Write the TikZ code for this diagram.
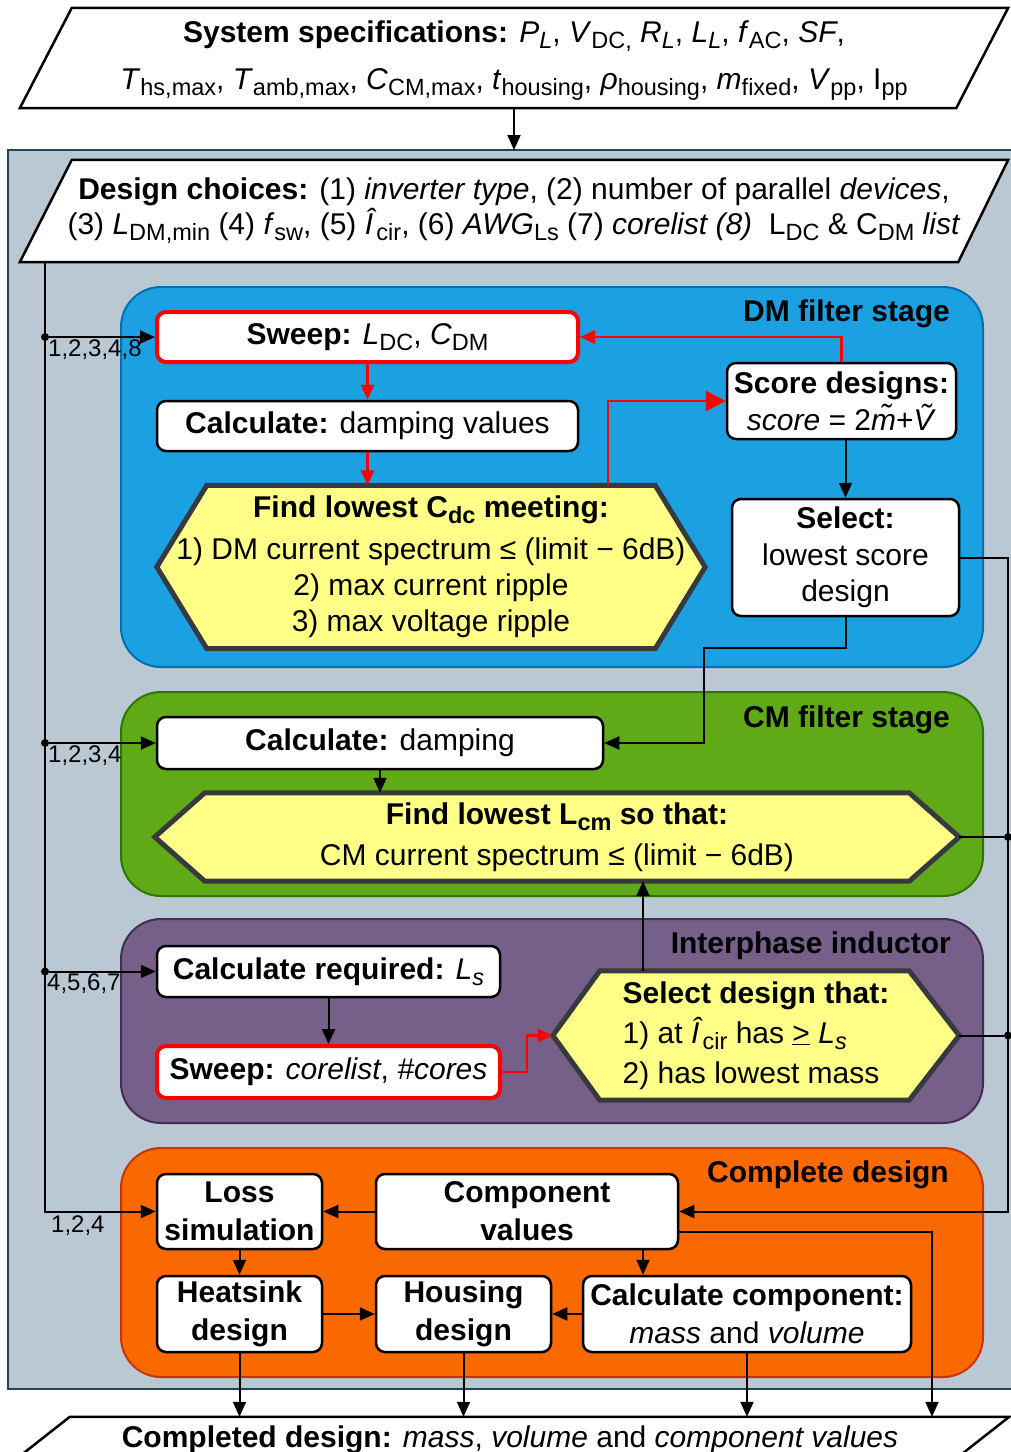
\documentclass[tikz,border=0pt]{standalone}
\usepackage{fontspec}
\setmainfont{Liberation Sans}
\usetikzlibrary{arrows.meta}
\pgfdeclarelayer{back}\pgfdeclarelayer{mid}\pgfsetlayers{back,mid,main}
\definecolor{panelgray}{HTML}{BAC8D3}
\definecolor{panelline}{HTML}{23445D}
\definecolor{dmfill}{HTML}{1BA1E2}
\definecolor{dmline}{HTML}{006EAF}
\definecolor{cmfill}{HTML}{60A917}
\definecolor{cmline}{HTML}{2D7600}
\definecolor{ipfill}{HTML}{76608A}
\definecolor{ipline}{HTML}{432D57}
\definecolor{cdfill}{HTML}{FA6800}
\definecolor{cdline}{HTML}{C73500}
\definecolor{hexfill}{HTML}{FFFF88}
\definecolor{hexline}{HTML}{36393D}
\newcommand{\sbs}[1]{\raisebox{-6pt}{\fontsize{23.5}{24}\selectfont #1}}
\tikzset{
  box/.style={draw=black, line width=2.5pt, fill=white, rounded corners=9pt, inner sep=1pt, align=center},
  redbox/.style={box, draw=red, line width=4pt},
  hexnode/.style={inner sep=0pt, align=center},
  hexshape/.style={fill=hexfill, draw=hexline, line width=5pt, line join=miter},
  para/.style={inner sep=0pt, align=center},
  parashape/.style={fill=white, draw=black, line width=2.5pt},
  con/.style={line width=2pt, draw=black},
  arr/.style={con, -{Triangle[length=15pt,width=13pt]}},
  redarr/.style={line width=2.5pt, draw=red, -{Triangle[length=15pt,width=13pt]}},
  bigredarr/.style={line width=2.5pt, draw=red, -{Triangle[length=20pt,width=20pt]}},
  jdot/.style={circle, fill=black, inner sep=0pt, minimum size=8pt},
  lab/.style={font=\fontsize{24}{24}\selectfont, inner sep=0pt, anchor=north west},
  stagetitle/.style={font=\fontsize{30}{36}\selectfont\bfseries, anchor=east, inner sep=0pt},
  stage/.style={line width=2pt, rounded corners=40pt},
}
\begin{document}
\begin{tikzpicture}[x=1pt,y=-1pt,font=\fontsize{30}{36}\selectfont]
\useasboundingbox (0,0) rectangle (1011,1452);

% ---------- background panels ----------
\begin{pgfonlayer}{back}
\draw[fill=panelgray, draw=panelline, line width=2pt] (8,150) rectangle (1030,1389);
\draw[stage, fill=dmfill, draw=dmline] (121,287) rectangle (983,667);
\draw[stage, fill=cmfill, draw=cmline] (121,692) rectangle (983,896);
\draw[stage, fill=ipfill, draw=ipline] (121,919) rectangle (983,1123);
\draw[stage, fill=cdfill, draw=cdline] (121,1148) rectangle (983,1377);
\end{pgfonlayer}

% ---------- stage titles ----------
\node[stagetitle] (tdm) at (950,314) {DM filter stage};
\node[stagetitle] (tcm) at (950,720) {CM filter stage};
\node[stagetitle] (tip) at (951,946) {Interphase inductor};
\node[stagetitle] (tcd) at (949,1175) {Complete design};

% ---------- parallelograms ----------
\node[para, minimum width=988pt, minimum height=100pt] (spec) at (514,58) {};
\node[para, font=\fontsize{30}{47}\selectfont] (spectxt) at (514,61)
 {\textbf{System specifications:} \textit{P}\sbs{\textit{L}}, \textit{V}\sbs{DC,} \textit{R}\sbs{\textit{L}}, \textit{L}\sbs{\textit{L}}, \textit{f}\sbs{AC}, \textit{SF},\\
 \textit{T}\sbs{hs,max}, \textit{T}\sbs{amb,max}, \textit{C}\sbs{CM,max}, \textit{t}\sbs{housing}, \textit{ρ}\sbs{housing}, \textit{m}\sbs{fixed}, \textit{V}\sbs{pp}, I\sbs{pp}};
\node[para, minimum width=988pt, minimum height=102pt, font=\fontsize{30}{35}\selectfont] (design) at (514,211)
 {\textbf{Design choices:} (1) \textit{inverter type}, (2) number of parallel \textit{devices},\\
 (3) \textit{L}\sbs{DM,min} (4) \textit{f}\sbs{sw}, (5) \textit{Î}\sbs{cir}, (6) \textit{AWG}\sbs{Ls} (7) \textit{corelist (8)}\ \ L\sbs{DC} \& C\sbs{DM} \textit{list}};
\node[para, minimum width=998pt, minimum height=46pt] (out) at (510,1440)
 {\textbf{Completed design:} \textit{mass}, \textit{volume} and \textit{component values}};

\begin{pgfonlayer}{mid}
\draw[parashape] (spec.south west) -- ([xshift=52pt]spec.north west) -- (spec.north east) -- ([xshift=-52pt]spec.south east) -- cycle;
\draw[parashape] (design.south west) -- ([xshift=52pt]design.north west) -- (design.north east) -- ([xshift=-50pt]design.south east) -- cycle;
\draw[parashape] (out.south west) -- ([xshift=59pt]out.north west) -- (out.north east) -- ([xshift=-59pt]out.south east) -- cycle;
\end{pgfonlayer}

% ---------- DM stage ----------
\node[redbox, minimum width=421pt, minimum height=50pt] (sweepDM) at (367.5,337) {\textbf{Sweep:} \textit{L}\sbs{DC}, \textit{C}\sbs{DM}};
\node[box, minimum width=421pt, minimum height=50pt] (calcDamp) at (367.5,426) {\textbf{Calculate:} damping values};
\node[hexnode, minimum width=548pt, minimum height=163pt] (hexDM) at (431,567)
 {\textbf{Find lowest C\sbs{dc} meeting:}\\[6pt]
  1) DM current spectrum ≤ (limit − 6dB)\\
  2) max current ripple\\
  3) max voltage ripple};
\node[box, minimum width=229pt, minimum height=76pt, font=\fontsize{30}{37}\selectfont] (score) at (841.5,401)
 {\textbf{Score designs:}\\ \textit{score} = 2\textit{\~{m}}+\textit{\~{V}}};
\node[box, minimum width=227pt, minimum height=117pt, font=\fontsize{30}{36.5}\selectfont] (select) at (845.5,557.5)
 {\textbf{Select:}\\ lowest score\\ design};

% ---------- CM stage ----------
\node[box, minimum width=446pt, minimum height=52pt] (calcCM) at (380,743) {\textbf{Calculate:} damping};
\node[hexnode, minimum width=804pt, minimum height=88pt, font=\fontsize{30}{41}\selectfont] (hexCM) at (557,837)
 {\textbf{Find lowest L\sbs{cm} so that:}\\ CM current spectrum ≤ (limit − 6dB)};

% ---------- Interphase inductor ----------
\node[box, minimum width=343pt, minimum height=51pt] (calcReq) at (328.5,971.5) {\textbf{Calculate required:} \textit{L}\sbs{\textit{s}}};
\node[redbox, minimum width=343pt, minimum height=52pt] (sweepCore) at (328.5,1072) {\textbf{Sweep:} \textit{corelist}, \textit{\#cores}};
\node[hexnode, align=left, minimum width=406pt, minimum height=129pt, font=\fontsize{30}{40}\selectfont] (hexIP) at (756,1035.5)
 {\textbf{Select design that:}\\
  1) at \textit{Î}\sbs{cir} has \underline{>} \textit{L}\sbs{\textit{s}}\\
  2) has lowest mass};

\begin{pgfonlayer}{mid}
\draw[hexshape] (hexDM.west) -- ([xshift=50pt]hexDM.north west) -- ([xshift=-50pt]hexDM.north east) -- (hexDM.east) -- ([xshift=-50pt]hexDM.south east) -- ([xshift=50pt]hexDM.south west) -- cycle;
\draw[hexshape] (hexCM.west) -- ([xshift=50pt]hexCM.north west) -- ([xshift=-50pt]hexCM.north east) -- (hexCM.east) -- ([xshift=-50pt]hexCM.south east) -- ([xshift=50pt]hexCM.south west) -- cycle;
\draw[hexshape] (hexIP.west) -- ([xshift=47pt]hexIP.north west) -- ([xshift=-50pt]hexIP.north east) -- (hexIP.east) -- ([xshift=-50pt]hexIP.south east) -- ([xshift=47pt]hexIP.south west) -- cycle;
\end{pgfonlayer}

% ---------- Complete design ----------
\node[box, minimum width=165pt, minimum height=75pt, font=\fontsize{30}{38}\selectfont\bfseries] (loss) at (239.5,1211.5) {Loss\\ simulation};
\node[box, minimum width=302pt, minimum height=75pt, font=\fontsize{30}{38}\selectfont\bfseries] (comp) at (527,1211.5) {Component\\ values};
\node[box, minimum width=165pt, minimum height=76pt, font=\fontsize{30}{38}\selectfont\bfseries] (heat) at (239.5,1314) {Heatsink\\ design};
\node[box, minimum width=175pt, minimum height=76pt, font=\fontsize{30}{38}\selectfont\bfseries] (house) at (463.5,1314) {Housing\\ design};
\node[box, minimum width=328pt, minimum height=76pt, font=\fontsize{30}{38}\selectfont] (calcComp) at (747,1314) {\textbf{Calculate component:}\\ \textit{mass} and \textit{volume}};

% ---------- helper coordinates ----------
\coordinate (ptop) at (514,150);
\coordinate (lb) at (45,1211.5);
\coordinate (rb) at (1008,1211.5);
\coordinate (j1) at (704,648);
\coordinate (cx) at (643,0);
\coordinate (cox) at (932,1232);

% ---------- connectors ----------
\draw[arr] (spec.south) -- (ptop);

% left feed line
\draw[arr] (design.south -| lb) -- (lb) -- (loss.west);
\node[jdot] (d1) at (sweepDM.west -| lb) {};
\node[jdot] (d2) at (calcCM.west -| lb) {};
\node[jdot] (d3) at (calcReq.west -| lb) {};
\draw[arr] (d1) -- (sweepDM.west);
\draw[arr] (d2) -- (calcCM.west);
\draw[arr] (d3) -- (calcReq.west);
\node[lab] (l1) at (48,340) {1,2,3,4,8};
\node[lab] (l2) at (48,746) {1,2,3,4};
\node[lab] (l3) at (47,974) {4,5,6,7};
\node[lab] (l4) at (51,1216) {1,2,4};

% DM stage
\draw[redarr] (sweepDM.south) -- (calcDamp.north);
\draw[redarr] (calcDamp.south) -- (calcDamp.south |- hexDM.north);
\draw[bigredarr] ([xshift=-97pt]hexDM.north east) |- (score.west);
\draw[redarr] (score.north) |- (sweepDM.east);
\draw[arr] (select.north |- score.south) -- (select.north);
\draw[arr] (select.south) |- (j1) |- (calcCM.east);
\draw[arr] (select.east) -| (rb) -- (comp.east);

% CM stage
\draw[arr] (calcCM.south) -- (calcCM.south |- hexCM.north);
\node[jdot] (d4) at (hexCM.east -| rb) {};
\draw[con] (hexCM.east) -- (d4);

% Interphase
\draw[arr] (calcReq.south) -- (sweepCore.north);
\draw[redarr] (sweepCore.east) -- ++(25,0) |- (hexIP.west);
\draw[arr] (hexIP.north -| cx) -- (hexCM.south -| cx);
\node[jdot] (d5) at (hexIP.east -| rb) {};
\draw[con] (hexIP.east) -- (d5);

% Complete design
\draw[arr] (comp.west) -- (loss.east);
\draw[arr] (loss.south) -- (heat.north);
\draw[arr] (heat.east) -- (house.west);
\draw[arr] (calcComp.west) -- (house.east);
\draw[arr] (comp.south -| cx) -- (calcComp.north -| cx);
\draw[arr] (comp.east |- cox) -- (cox) -- (cox |- out.north);
\draw[arr] (heat.south) -- (heat.south |- out.north);
\draw[arr] (house.south) -- (house.south |- out.north);
\draw[arr] (calcComp.south) -- (calcComp.south |- out.north);
\end{tikzpicture}
\end{document}
